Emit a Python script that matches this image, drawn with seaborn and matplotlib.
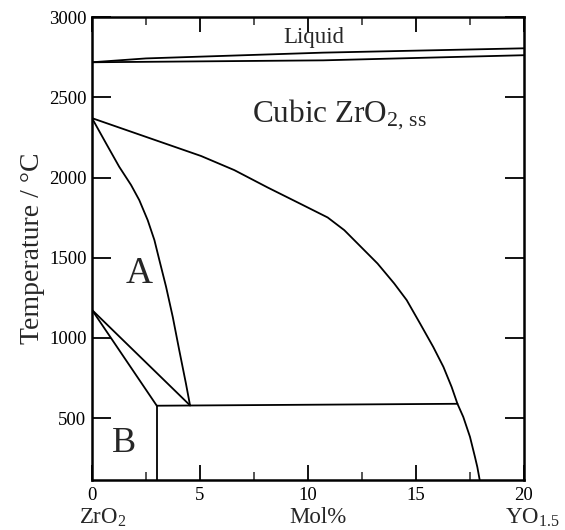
import matplotlib
matplotlib.use("Agg")
import matplotlib.pyplot as plt
import matplotlib.transforms as mtransforms
import seaborn as sns
import pandas as pd

sns.set_theme(style="white")
plt.rcParams["font.family"] = ["Liberation Serif", "DejaVu Serif"]
plt.rcParams["font.serif"] = ["Liberation Serif", "DejaVu Serif"]
plt.rcParams["mathtext.fontset"] = "custom"
plt.rcParams["mathtext.rm"] = "Liberation Serif"
plt.rcParams["mathtext.it"] = "Liberation Serif:italic"

SERIF = ["Liberation Serif", "DejaVu Serif"]

# ---- boundary data (mol% YO1.5, temperature °C) ----
liq_upper_x = [0, 2.5, 10.7, 20]
liq_upper_t = [2718, 2742, 2778, 2805]
liq_lower_x = [0, 10.7, 20]
liq_lower_t = [2718, 2730, 2762]

cubic_x = [0, 5.05, 6.59, 8.13, 9.68, 10.91, 11.68, 12.45, 13.22, 13.99, 14.57,
           15.19, 15.80, 16.27, 16.65, 16.92, 17.19, 17.50, 17.73, 17.84, 17.95]
cubic_t = [2370, 2134, 2046, 1938, 1834, 1751, 1672, 1568, 1464, 1340, 1236,
           1090, 944, 820, 695, 590, 508, 384, 259, 196, 115]

tet_x = [0, 0.65, 1.26, 1.81, 2.19, 2.58, 2.89, 3.12, 3.43, 3.74, 4.04, 4.35, 4.54]
tet_t = [2370, 2213, 2067, 1953, 1859, 1734, 1610, 1485, 1319, 1131, 924, 716, 580]

mt_upper_x = [0, 4.54]
mt_upper_t = [1175, 580]
mt_lower_x = [0, 3.0]
mt_lower_t = [1175, 578]

eutectoid_x = [3.0, 16.92]
eutectoid_t = [578, 590]

vert_x = [3.0, 3.0]
vert_t = [578, 115]

x_ticks = [0, 5, 10, 15, 20]
x_minor = [2.5, 7.5, 12.5, 17.5]
y_ticks = [500, 1000, 1500, 2000, 2500, 3000]

curves = {
    "liq_upper": (liq_upper_x, liq_upper_t),
    "liq_lower": (liq_lower_x, liq_lower_t),
    "cubic": (cubic_x, cubic_t),
    "tet": (tet_x, tet_t),
    "mt_upper": (mt_upper_x, mt_upper_t),
    "mt_lower": (mt_lower_x, mt_lower_t),
    "eutectoid": (eutectoid_x, eutectoid_t),
    "vert": (vert_x, vert_t),
}

fig = plt.figure(figsize=(5.65, 5.30), dpi=100)
ax = fig.add_axes([0.1628, 0.0943, 0.7646, 0.8736])

for name, (xs, ts) in curves.items():
    df = pd.DataFrame({"x": xs, "t": ts})
    sns.lineplot(data=df, x="x", y="t", sort=False, estimator=None,
                 color="black", linewidth=1.3, ax=ax)

ax.set_xlim(0, 20)
ax.set_ylim(115, 3000)
ax.set_xticks(x_ticks)
ax.set_xticks(x_minor, minor=True)
ax.set_yticks(y_ticks)
ax.set_xticklabels([str(v) for v in x_ticks], fontsize=13.5, family=SERIF)
ax.set_yticklabels([str(v) for v in y_ticks], fontsize=13.5, family=SERIF)
ax.tick_params(axis="x", which="major", direction="in", length=11, width=1.3,
               top=True, bottom=True, colors="black", pad=5)
ax.tick_params(axis="y", which="major", direction="in", length=14, width=1.3,
               left=True, right=True, colors="black", pad=4)
ax.tick_params(axis="x", which="minor", direction="in", length=6, width=1.1,
               top=True, bottom=True)
for s in ax.spines.values():
    s.set_color("black")
    s.set_linewidth(1.8)

ax.set_xlabel("")
ax.set_ylabel("Temperature / °C", fontsize=20, labelpad=3, family=SERIF)

trans = mtransforms.blended_transform_factory(ax.transData, ax.transAxes)
ax.text(0.5, -0.082, "ZrO$_2$", transform=trans, ha="center", va="center", fontsize=16.5)
ax.text(10.45, -0.082, "Mol%", transform=trans, ha="center", va="center", fontsize=16.5)
ax.text(20.4, -0.082, "YO$_{1.5}$", transform=trans, ha="center", va="center", fontsize=16.5)

ax.text(10.25, 2835, "Liquid", ha="center", va="baseline", fontsize=16.5)
ax.text(7.4, 2345, "Cubic ZrO$_{\\mathrm{2,\\,ss}}$", ha="left", va="baseline", fontsize=22.5)
ax.text(2.2, 1400, "A", ha="center", va="center", fontsize=27)
ax.text(1.5, 344, "B", ha="center", va="center", fontsize=26)

fig.savefig("out.png", dpi=100)
